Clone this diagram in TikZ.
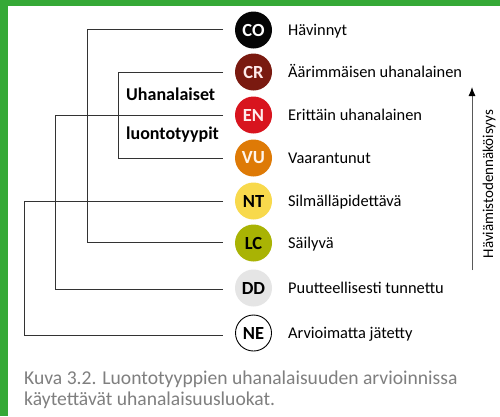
\documentclass[tikz,border=0pt]{standalone}
\usepackage{fontspec}
\setmainfont{Carlito}
\usetikzlibrary{arrows.meta}
\definecolor{frame}{HTML}{35A936}
\definecolor{cCO}{HTML}{050505}
\definecolor{cCR}{HTML}{7A1A10}
\definecolor{cEN}{HTML}{D8141E}
\definecolor{cVU}{HTML}{DE7A06}
\definecolor{cNT}{HTML}{F8D94C}
\definecolor{cLC}{HTML}{A9B304}
\definecolor{cDD}{HTML}{E5E5E5}
\definecolor{capgray}{HTML}{7F7F7F}
\definecolor{treeline}{HTML}{333333}
\tikzset{
  cat/.style={circle, minimum size=37pt, inner sep=0pt, font=\fontsize{18.5}{18.5}\selectfont\bfseries},
  lab/.style={anchor=base west, inner sep=0pt, font=\fontsize{16.4}{16.4}\selectfont},
  tree/.style={draw=treeline, line width=0.9pt},
  grp/.style={anchor=base west, inner sep=0pt, font=\fontsize{18}{18}\selectfont\bfseries},
  captext/.style={anchor=base west, inner sep=0pt, text=capgray, font=\fontsize{19.6}{19.6}\selectfont},
}
\begin{document}
\begin{tikzpicture}[x=1pt,y=-1pt]
\useasboundingbox (0,0) rectangle (500,416);
\fill[white] (0,0) rectangle (500,416);
\fill[frame] (0,0) rectangle (500,6);
\fill[frame] (0,0) rectangle (8,416);

% category circles
\node[cat, fill=cCO, text=white] (co) at (253.5,30) {CO};
\node[cat, fill=cCR, text=white!92!red] (cr) at (253.5,72) {CR};
\node[cat, fill=cEN, text=white!92!red] (en) at (253.5,115) {EN};
\node[cat, fill=cVU, text=white!92!orange] (vu) at (253.5,158) {VU};
\node[cat, fill=cNT, text=black] (nt) at (253.5,201) {NT};
\node[cat, fill=cLC, text=black] (lc) at (253.5,243) {LC};
\node[cat, fill=cDD, text=black] (dd) at (253.5,288) {DD};
\node[cat, fill=white, draw=black, line width=0.9pt, minimum size=36pt, text=black] (ne) at (253.5,333) {NE};

% labels
\node[lab] (lco) at (288,35) {Hävinnyt};
\node[lab] (lcr) at (288,77) {Äärimmäisen uhanalainen};
\node[lab] (len) at (288,120) {Erittäin uhanalainen};
\node[lab] (lvu) at (288,163) {Vaarantunut};
\node[lab] (lnt) at (288,206) {Silmälläpidettävä};
\node[lab] (llc) at (288,248) {Säilyvä};
\node[lab] (ldd) at (288,293) {Puutteellisesti tunnettu};
\node[lab] (lne) at (288,338) {Arvioimatta jätetty};

% tree
\coordinate (eco) at (223,29);
\coordinate (ecr) at (223,72);
\coordinate (een) at (223,115);
\coordinate (evu) at (223,158);
\coordinate (ent) at (223,201);
\coordinate (elc) at (223,242);
\coordinate (edd) at (223,289);
\coordinate (ene) at (223,335);
\coordinate (b1) at (87,29);
\coordinate (b2) at (118,72);
\coordinate (b3) at (55,115);
\coordinate (b4) at (24,201);
\draw[tree] (eco) -- (b1) |- (elc);
\draw[tree] (ecr) -- (b2) |- (evu);
\draw[tree] (een) -- (b3) |- (edd);
\draw[tree] (ent) -- (b4) |- (ene);

\node[grp] (g1) at (126,100) {Uhanalaiset};
\node[grp] (g2) at (126,139) {luontotyypit};

% arrow
\coordinate (abot) at (472,270);
\coordinate (atop) at (472,87);
\draw[draw=black!65, line width=0.9pt, -{Latex[length=9pt,width=7pt,color=black]}] (abot) -- (atop);
\node[rotate=90, inner sep=0pt, font=\fontsize{15}{15}\selectfont] (alab) at (489,184) {Häviämistodennäköisyys};

% caption
\node[captext] (cap1) at (24,384) {Kuva 3.2. Luontotyyppien uhanalaisuuden arvioinnissa};
\node[captext] (cap2) at (24,405) {käytettävät uhanalaisuusluokat.};
\end{tikzpicture}
\end{document}
